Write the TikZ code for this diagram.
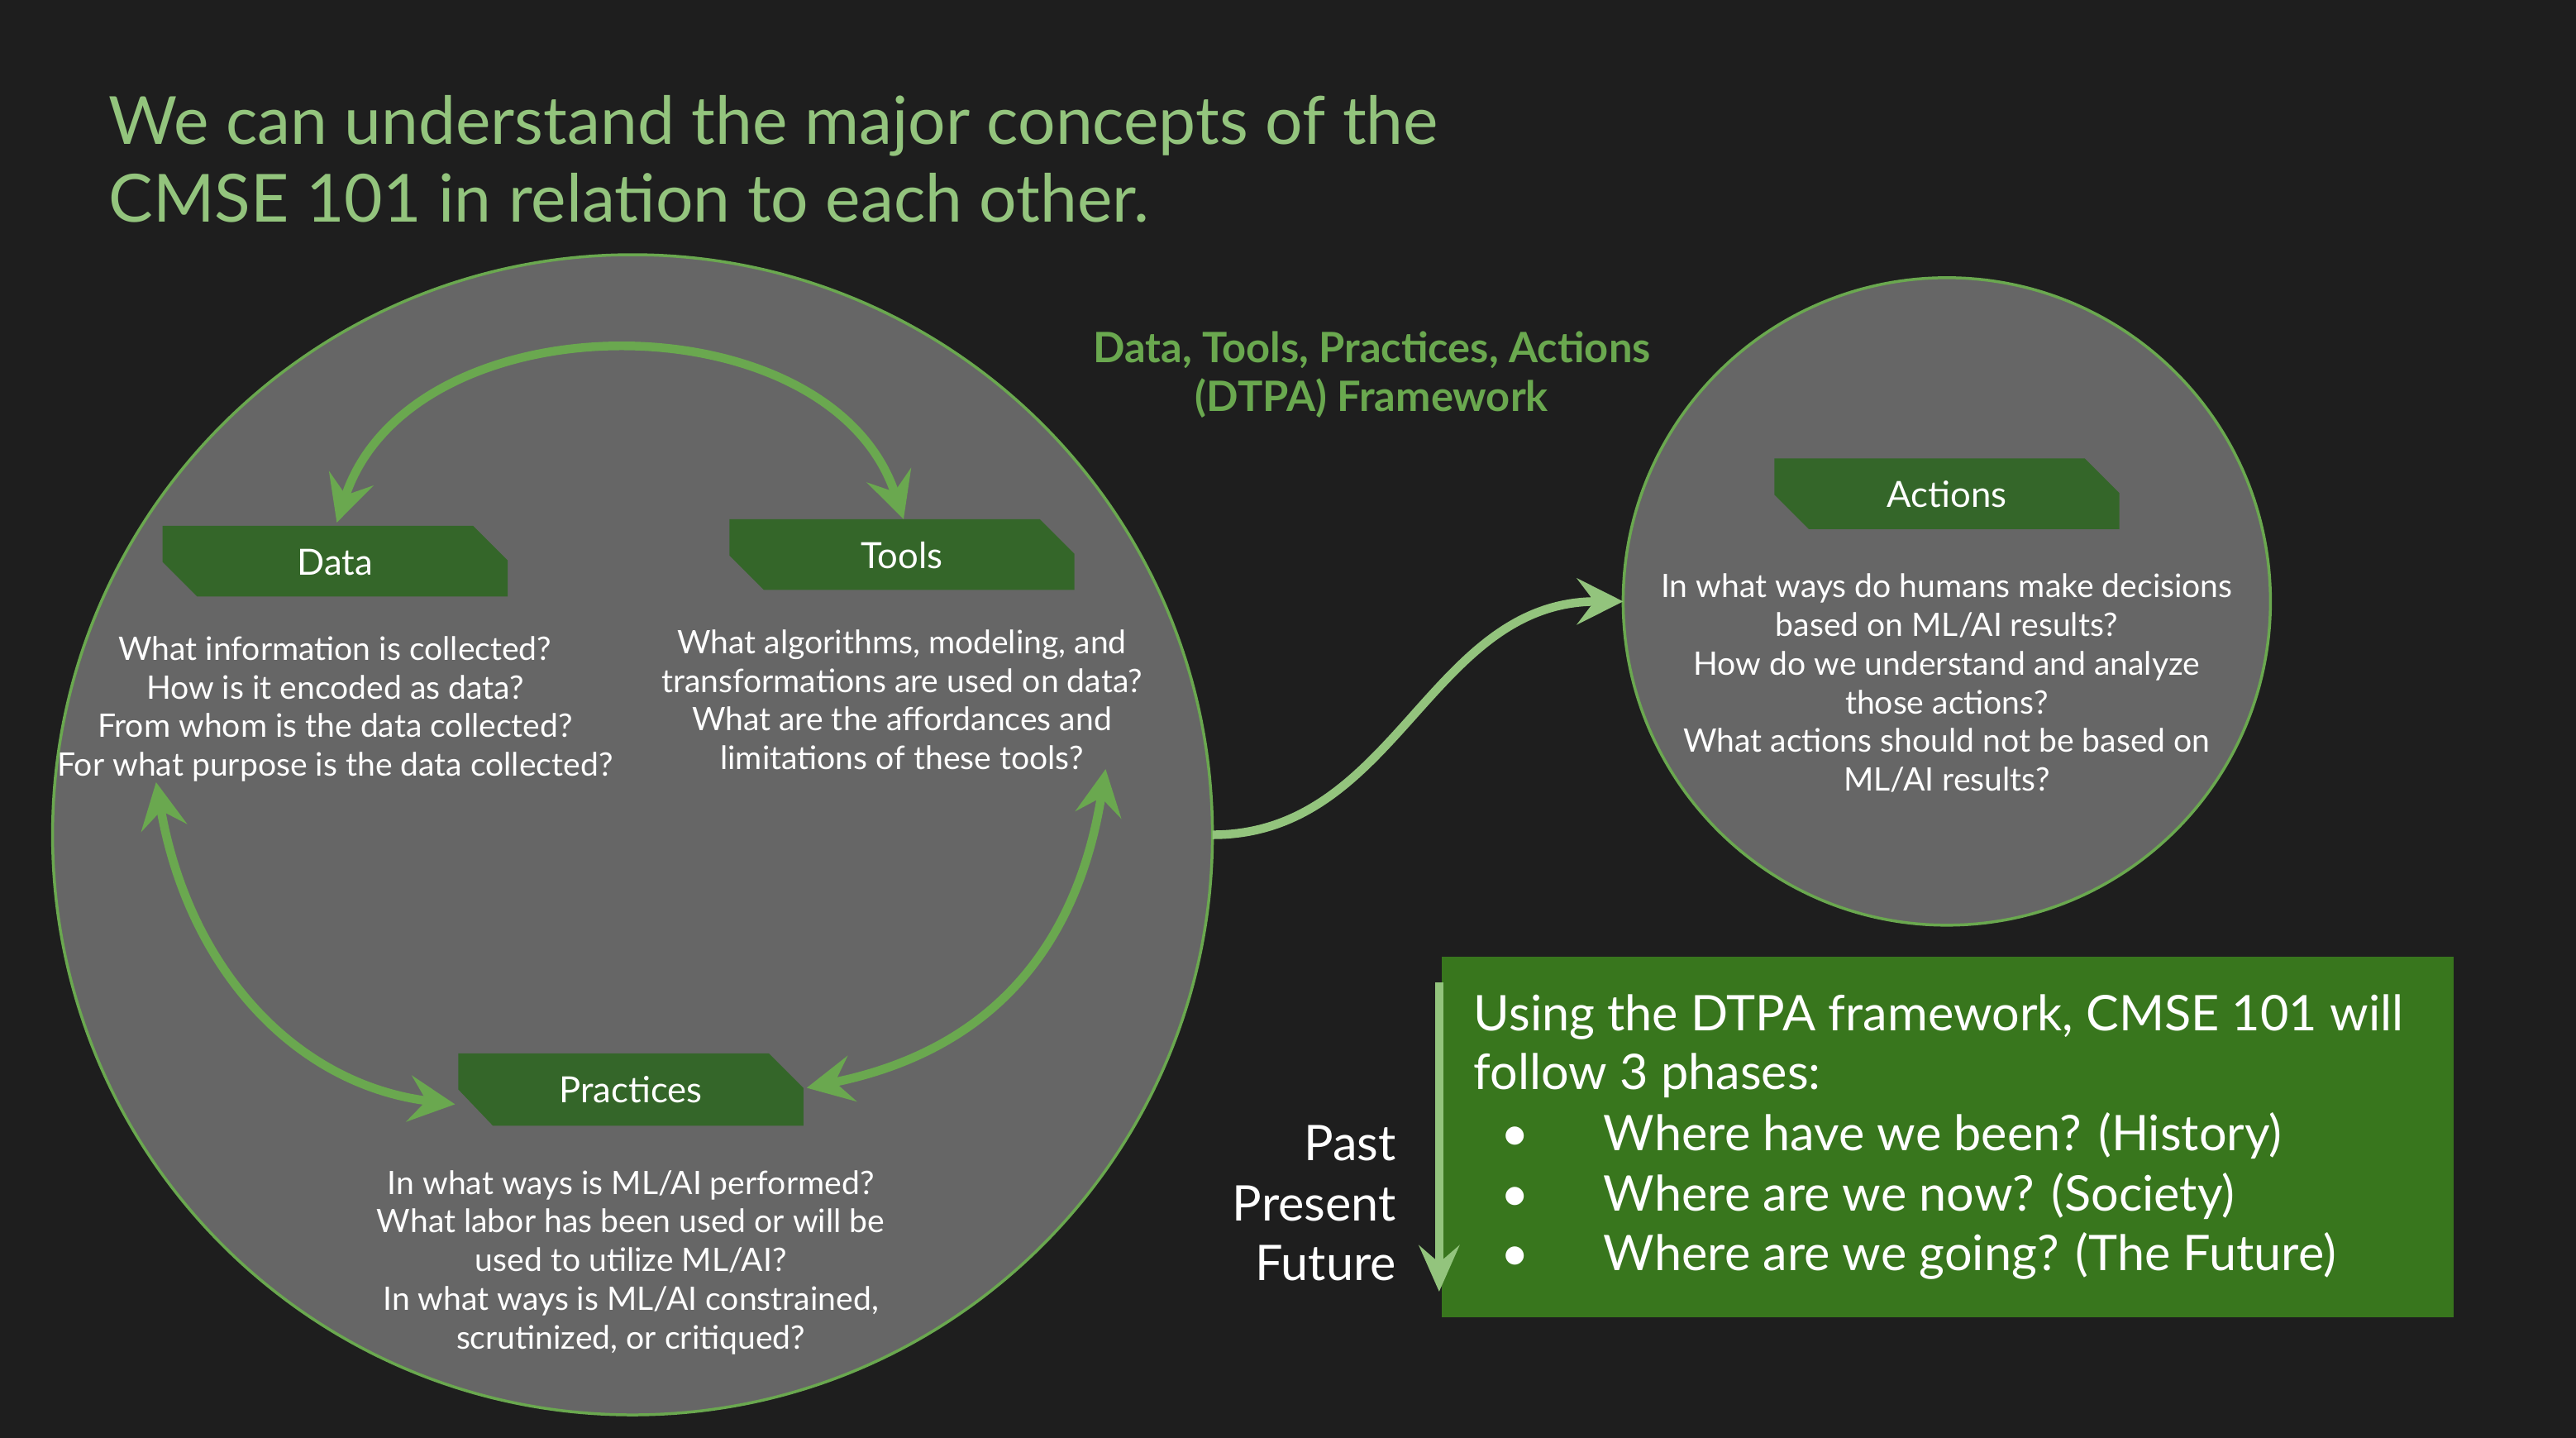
\documentclass[tikz,border=0pt]{standalone}
\usepackage{fontspec}
\setmainfont{Lato}
\usetikzlibrary{arrows.meta}
\definecolor{bg}{HTML}{1E1E1E}
\definecolor{circ}{HTML}{666666}
\definecolor{lg}{HTML}{93C47D}
\definecolor{mg}{HTML}{6AA84F}
\definecolor{dg}{HTML}{38761D}
\definecolor{tg}{HTML}{346629}
\begin{document}
\begin{tikzpicture}[x=0.02cm,y=-0.02cm,
  bigc/.style={fill=circ,draw=mg,line width=1pt},
  body/.style={text=white,align=center,font=\fontsize{11.2}{13.4}\selectfont},
  tagtxt/.style={text=white,font=\fontsize{12.5}{14}\selectfont},
  arr/.style={draw=mg,line width=3pt,{Stealth[length=16pt,width=16pt,inset=6pt]}-{Stealth[length=16pt,width=16pt,inset=6pt]}},
  tag/.style={fill=tg}]
\fill[bg] (0,0) rectangle (1568,875);
\useasboundingbox (0,0) rectangle (1568,875);
\node[anchor=base west,text=lg,align=left,font=\fontsize{23}{27}\selectfont] (title) at (60,88) {We can understand the major concepts of the};
\node[anchor=base west,text=lg,font=\fontsize{23}{27}\selectfont] (title2) at (60,135) {CMSE 101 in relation to each other.};
\node[bigc,circle,minimum size=706*0.02cm] (big) at (385,508) {};
\node[bigc,circle,minimum size=394*0.02cm] (act) at (1185,366) {};
% tags
\fill[tag] (99,320) -- (288,320) -- (309,341) -- (309,363) -- (120,363) -- (99,342) -- cycle;
\fill[tag] (444,316) -- (633,316) -- (654,337) -- (654,359) -- (465,359) -- (444,338) -- cycle;
\fill[tag] (279,641) -- (468,641) -- (489,662) -- (489,685) -- (300,685) -- (279,663) -- cycle;
\fill[tag] (1080,279) -- (1269,279) -- (1290,300) -- (1290,322) -- (1101,322) -- (1080,301) -- cycle;
\node[tagtxt] (tdata) at (204,342) {Data};
\node[tagtxt] (ttools) at (549,338) {Tools};
\node[tagtxt] (tprac) at (384,663) {Practices};
\node[tagtxt] (tact) at (1185,301) {Actions};
\node[body,anchor=north] (bdata) at (204,381) {What information is collected?\\How is it encoded as data?\\From whom is the data collected?\\For what purpose is the data collected?};
\node[body,anchor=north] (btools) at (549,377) {What algorithms, modeling, and\\transformations are used on data?\\What are the affordances and\\limitations of these tools?};
\node[body,anchor=north] (bprac) at (384,706) {In what ways is ML/AI performed?\\What labor has been used or will be\\used to utilize ML/AI?\\In what ways is ML/AI constrained,\\scrutinized, or critiqued?};
\node[body,anchor=north] (bact) at (1185,343) {In what ways do humans make decisions\\based on ML/AI results?\\How do we understand and analyze\\those actions?\\What actions should not be based on\\ML/AI results?};
\coordinate (a1) at (205,318); \coordinate (a2) at (550,316);
\coordinate (l1) at (95,476); \coordinate (l2) at (277,672);
\coordinate (r1) at (673,468); \coordinate (r2) at (491,662);
\draw[arr] (a1) .. controls (250,180) and (505,180) .. (a2);
\draw[arr] (l1) .. controls (115,590) and (180,660) .. (l2);
\draw[arr] (r1) .. controls (655,580) and (600,640) .. (r2);
\coordinate (s0) at (738,508);
\draw[draw=lg,line width=3pt,-{Stealth[length=16pt,width=16pt,inset=6pt]}] (s0) .. controls (850,508) and (870,366) .. (988,366);
\node[text=mg,font=\bfseries\fontsize{14.5}{17}\selectfont,align=center] (dtpa) at (835,228) {Data, Tools, Practices, Actions\\(DTPA) Framework};
\node[fill=dg,minimum width=616*0.02cm,minimum height=219*0.02cm,anchor=north west,inner sep=0] (box) at (877,582) {};
\begin{scope}[font=\fontsize{17}{20}\selectfont,text=white]
\node[anchor=base west] (p1) at (891,627) {Using the DTPA framework, CMSE 101 will};
\node[anchor=base west] (p2) at (891,663) {follow 3 phases:};
\node[anchor=base] (b1) at (922,700) {\textbullet};
\node[anchor=base] (b2) at (922,737) {\textbullet};
\node[anchor=base] (b3) at (922,773) {\textbullet};
\node[anchor=base west] (q1) at (970,700) {Where have we been? (History)};
\node[anchor=base west] (q2) at (970,737) {Where are we now? (Society)};
\node[anchor=base west] (q3) at (970,773) {Where are we going? (The Future)};
\node[anchor=base east] (past) at (856,706) {Past};
\node[anchor=base east] (pres) at (856,743) {Present};
\node[anchor=base east] (fut) at (856,779) {Future};
\end{scope}
\coordinate (v1) at (876,598); \coordinate (v2) at (876,786);
\draw[draw=lg,line width=3pt,-{Stealth[length=16pt,width=14pt,inset=6pt]}] (v1) -- (v2);
\end{tikzpicture}
\end{document}
